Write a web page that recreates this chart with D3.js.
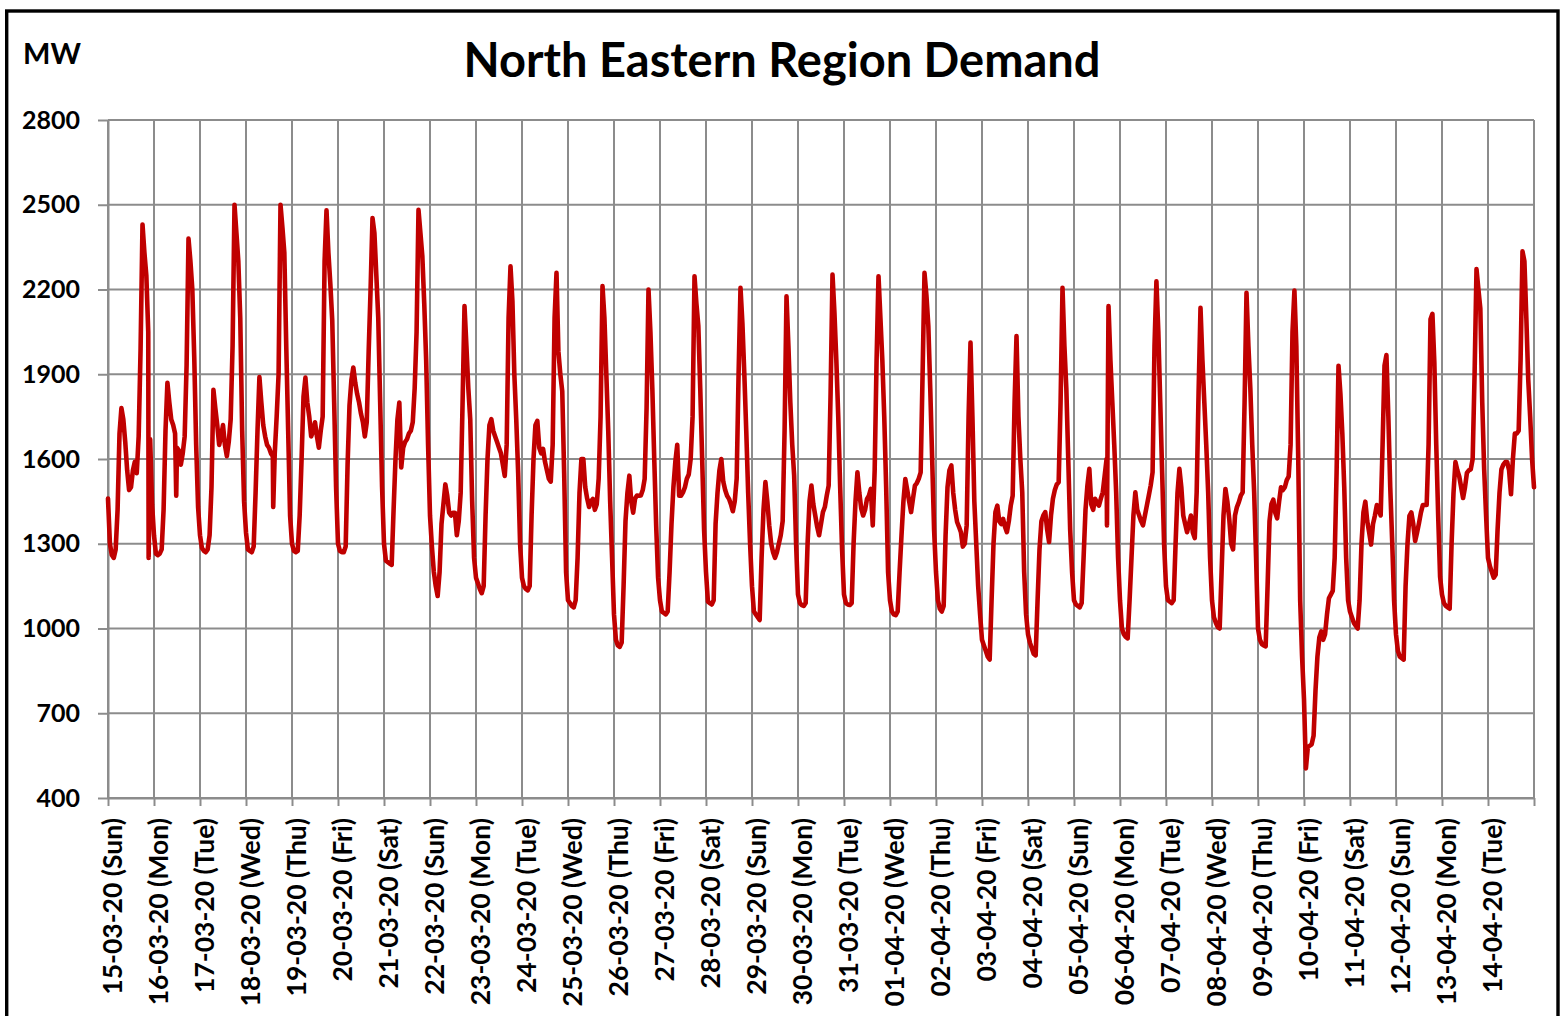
<!DOCTYPE html>
<html><head><meta charset="utf-8">
<script src="https://cdn.jsdelivr.net/npm/d3@7"></script>
<style>
body{margin:0;background:#fff}
svg{display:block}
text{font-family:Lato,"Open Sans",sans-serif;font-weight:700;fill:#000}
</style></head>
<body><svg id="c" width="1564" height="1016"></svg>
<script>
const dayLabels = ["15-03-20 (Sun)","16-03-20 (Mon)","17-03-20 (Tue)","18-03-20 (Wed)","19-03-20 (Thu)","20-03-20 (Fri)","21-03-20 (Sat)","22-03-20 (Sun)","23-03-20 (Mon)","24-03-20 (Tue)","25-03-20 (Wed)","26-03-20 (Thu)","27-03-20 (Fri)","28-03-20 (Sat)","29-03-20 (Sun)","30-03-20 (Mon)","31-03-20 (Tue)","01-04-20 (Wed)","02-04-20 (Thu)","03-04-20 (Fri)","04-04-20 (Sat)","05-04-20 (Sun)","06-04-20 (Mon)","07-04-20 (Tue)","08-04-20 (Wed)","09-04-20 (Thu)","10-04-20 (Fri)","11-04-20 (Sat)","12-04-20 (Sun)","13-04-20 (Mon)","14-04-20 (Tue)"];
const yTicks = [400,700,1000,1300,1600,1900,2200,2500,2800];
// hourly demand (MW), hours 0..23 of each day
const hourlyDemand = [
[1460,1300,1260,1250,1280,1420,1690,1780,1740,1660,1560,1490,1500,1560,1590,1550,1680,1990,2430,2330,2250,2050,1670,1440],
[1330,1265,1260,1265,1280,1420,1700,1870,1800,1740,1720,1690,1640,1630,1580,1620,1680,1930,2380,2300,2200,1960,1650,1430],
[1330,1285,1275,1270,1280,1330,1500,1845,1780,1720,1650,1680,1720,1650,1610,1660,1740,2000,2500,2400,2300,2100,1700,1450],
[1340,1280,1275,1270,1290,1480,1700,1890,1800,1720,1680,1650,1640,1620,1610,1620,1750,1900,2500,2420,2330,2000,1700,1400],
[1300,1275,1270,1275,1400,1600,1820,1888,1800,1750,1680,1700,1730,1680,1640,1700,1750,2300,2480,2330,2220,2090,1800,1500],
[1300,1275,1270,1270,1290,1580,1790,1880,1924,1870,1830,1800,1760,1730,1680,1730,1980,2200,2453,2400,2250,2100,1800,1500],
[1300,1240,1235,1230,1225,1420,1600,1740,1800,1570,1640,1660,1670,1690,1700,1730,1850,2050,2482,2400,2318,2150,1950,1650],
[1400,1290,1200,1150,1115,1200,1370,1440,1510,1470,1410,1400,1410,1410,1330,1380,1480,1800,2141,2000,1850,1740,1450,1250],
[1180,1160,1140,1125,1150,1400,1600,1720,1741,1700,1680,1660,1640,1620,1580,1540,1650,2100,2282,2160,1900,1740,1550,1300],
[1180,1150,1140,1135,1150,1400,1600,1720,1735,1640,1620,1636,1590,1560,1530,1520,1650,2100,2259,1980,1900,1840,1550,1200],
[1100,1090,1080,1075,1100,1250,1480,1600,1600,1500,1460,1430,1450,1459,1420,1440,1530,1750,2212,2100,1900,1700,1450,1250],
[1050,960,940,935,950,1150,1380,1480,1541,1450,1410,1460,1471,1470,1471,1490,1530,1780,2200,2050,1850,1600,1365,1180],
[1100,1060,1055,1050,1060,1200,1370,1500,1590,1650,1470,1470,1482,1500,1530,1545,1600,1750,2247,2150,2071,1850,1600,1350],
[1200,1095,1090,1085,1100,1370,1480,1560,1600,1520,1490,1470,1459,1440,1415,1450,1530,1900,2206,2080,1900,1700,1480,1300],
[1150,1060,1050,1040,1030,1250,1420,1518,1450,1365,1300,1270,1250,1270,1300,1330,1380,1700,2176,2000,1800,1650,1540,1300],
[1120,1090,1083,1080,1090,1300,1450,1506,1440,1400,1360,1330,1370,1412,1430,1470,1506,1830,2253,2120,1950,1750,1500,1280],
[1120,1090,1085,1083,1090,1300,1450,1553,1480,1424,1400,1420,1459,1470,1494,1365,1560,1950,2247,2100,1950,1750,1500,1200],
[1100,1060,1050,1047,1060,1200,1330,1450,1529,1490,1450,1412,1460,1506,1515,1530,1553,1900,2259,2180,2071,1850,1600,1350],
[1200,1100,1070,1060,1080,1330,1500,1560,1577,1480,1420,1377,1360,1341,1290,1300,1365,1750,2012,1750,1450,1300,1150,1050],
[960,940,920,900,890,1100,1300,1412,1435,1380,1370,1388,1360,1341,1380,1435,1470,1800,2035,1750,1600,1482,1200,1050],
[980,950,930,910,905,1100,1280,1380,1400,1412,1350,1306,1400,1459,1490,1510,1518,1800,2206,2000,1850,1600,1350,1200],
[1100,1085,1080,1075,1090,1250,1420,1506,1565,1440,1420,1459,1445,1435,1460,1482,1541,1600,2141,1950,1800,1650,1482,1250],
[1100,1000,980,970,965,1100,1250,1400,1482,1420,1400,1380,1365,1400,1435,1470,1506,1553,2000,2229,2050,1800,1550,1300],
[1150,1100,1095,1090,1100,1300,1480,1565,1500,1400,1370,1341,1370,1400,1340,1320,1482,1835,2135,1950,1800,1650,1482,1250],
[1100,1040,1020,1005,1000,1200,1400,1494,1450,1388,1300,1280,1400,1430,1447,1470,1482,1800,2188,2000,1850,1650,1482,1250],
[1000,960,945,940,937,1150,1380,1440,1456,1410,1390,1449,1500,1490,1500,1525,1538,1650,2050,2196,2000,1600,1100,900],
[750,505,580,585,590,620,780,900,968,990,960,980,1050,1107,1120,1133,1250,1550,1930,1830,1690,1500,1250,1100],
[1060,1040,1020,1010,1000,1100,1300,1411,1449,1380,1340,1297,1370,1400,1437,1420,1400,1650,1930,1968,1753,1500,1310,1100],
[980,920,900,895,890,1150,1300,1399,1411,1370,1310,1340,1373,1410,1437,1437,1437,1650,2095,2114,1943,1650,1400,1183],
[1120,1090,1080,1075,1070,1300,1480,1589,1560,1538,1500,1462,1500,1551,1560,1563,1600,1900,2272,2200,2133,1800,1563,1400],
[1250,1220,1200,1180,1190,1350,1480,1563,1580,1589,1589,1560,1475,1600,1690,1690,1700,1950,2335,2300,2100,1880,1750,1600]
];
const lastReading = 1500; // 15-04-20 00:00
// short dips: [day index, hour, MW]
const dips = [[0,21.2,1250],[1,11.6,1470],[3,14.2,1430],[21,17.2,1365]];

const svg = d3.select("#c");
const L = 108, R = 1534, T = 120, B = 798;
const nDays = dayLabels.length;

// outer frame
svg.append("rect").attr("x",6.7).attr("y",11).attr("width",1551.3).attr("height",1030)
  .attr("fill","none").attr("stroke","#000").attr("stroke-width",3.4);

const x = d3.scaleLinear().domain([0, nDays*24]).range([L, R]);
const y = d3.scaleLinear().domain([400, 2800]).range([B, T]);

// grid
const grid = svg.append("g").attr("stroke","#8c8c8c").attr("stroke-width",2);
grid.selectAll(".h").data(yTicks).join("line")
  .attr("x1",L).attr("x2",R).attr("y1",d=>y(d)).attr("y2",d=>y(d));
grid.selectAll(".v").data(d3.range(nDays+1)).join("line")
  .attr("x1",d=>x(d*24)).attr("x2",d=>x(d*24)).attr("y1",T).attr("y2",B);

// y axis
const ya = svg.append("g").attr("transform",`translate(${L},0)`)
  .call(d3.axisLeft(y).tickValues(yTicks).tickFormat(d3.format("d")).tickSize(10).tickPadding(18).tickSizeOuter(0));
ya.select(".domain").attr("stroke","#8c8c8c").attr("stroke-width",2);
ya.selectAll(".tick line").attr("stroke","#8c8c8c").attr("stroke-width",2);
ya.selectAll("text").attr("font-size",25).attr("font-family",null).attr("fill","#000");

// x axis
const xa = svg.append("g").attr("transform",`translate(0,${B})`)
  .call(d3.axisBottom(x).tickValues(d3.range(nDays+1).map(d=>d*24)).tickSize(8).tickSizeOuter(0)
    .tickFormat(v => dayLabels[v/24] || ""));
xa.select(".domain").attr("stroke","#8c8c8c").attr("stroke-width",2);
xa.selectAll(".tick line").attr("stroke","#8c8c8c").attr("stroke-width",2);
xa.selectAll("text").attr("font-size",26.5).attr("font-family",null).attr("fill","#000")
  .attr("transform","rotate(-90)").attr("text-anchor","end")
  .attr("x",-20).attr("y",4).attr("dy","0.35em");

// series
const pts = [];
hourlyDemand.forEach((day,d)=>day.forEach((v,h)=>pts.push([d*24+h, v])));
dips.forEach(([d,h,v])=>pts.push([d*24+h, v]));
pts.push([nDays*24, lastReading]);
pts.sort((a,b)=>a[0]-b[0]);
svg.append("path").datum(pts)
  .attr("fill","none").attr("stroke","#c00000").attr("stroke-width",4.6)
  .attr("stroke-linejoin","round").attr("stroke-linecap","round")
  .attr("d", d3.line().x(p=>x(p[0])).y(p=>y(p[1])));

// titles
svg.append("text").attr("x",782).attr("y",77).attr("text-anchor","middle")
  .attr("font-size",47).text("North Eastern Region Demand");
svg.append("text").attr("x",23).attr("y",64).attr("font-size",29).text("MW");
</script></body></html>
